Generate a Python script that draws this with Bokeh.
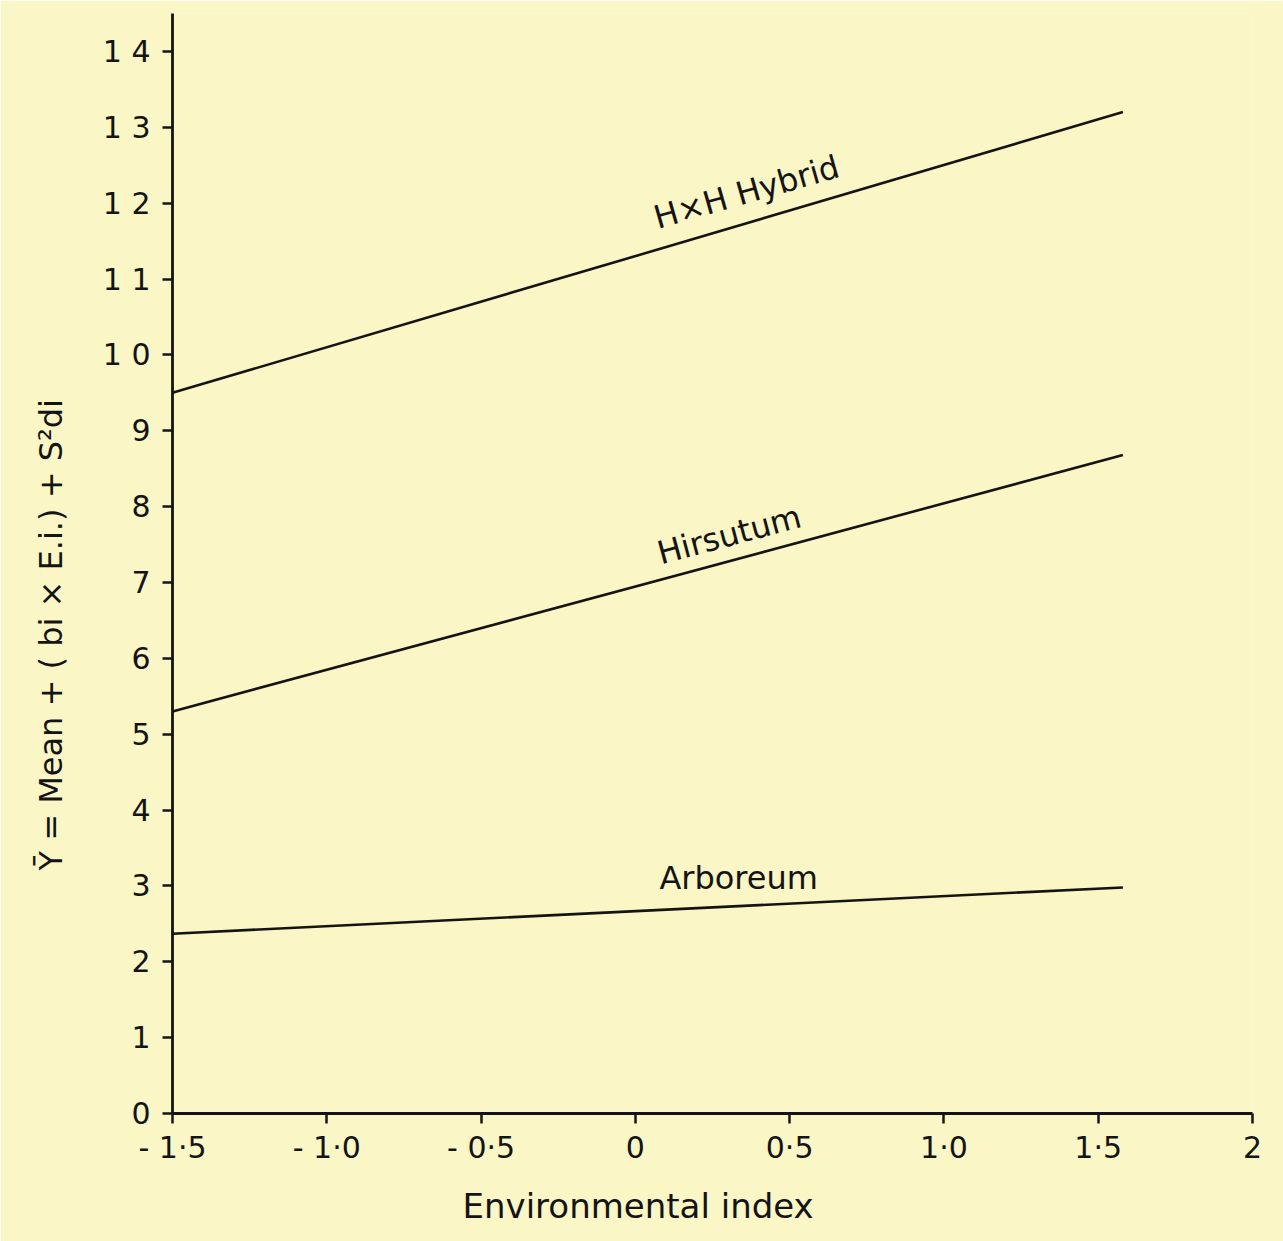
import math
from bokeh.plotting import figure
from bokeh.models import Range1d, FixedTicker, Label, Title
from bokeh.embed import file_html
from bokeh.resources import INLINE

# ---- data ----
env_index = [-1.5, 1.58]
hybrid = [9.5, 13.2]
hirsutum = [5.3, 8.68]
arboreum = [2.37, 2.98]

x_ticks = [-1.5, -1.0, -0.5, 0.0, 0.5, 1.0, 1.5, 2.0]
x_tick_labels = ["- 1·5", "- 1·0", "- 0·5", "0", "0·5", "1·0", "1·5", "2"]
y_ticks = list(range(15))
y_tick_labels = ["0", "1", "2", "3", "4", "5", "6", "7", "8", "9",
                 "1 0", "1 1", "1 2", "1 3", "1 4"]

series_names = ["H×H Hybrid", "Hirsutum", "Arboreum"]
x_title = "Environmental  index"
y_title = "Ȳ = Mean + ( bi × E.i.) + S²di"

FONT = "DejaVu Sans"
BG = "#FAF6C6"
INK = "#141414"
W, H = 1283, 1241
FRAME_LEFT, FRAME_BOTTOM = 172, 1113

p = figure(width=W, height=H, output_backend="svg", toolbar_location=None,
           x_range=Range1d(-1.5, 2.0), y_range=Range1d(0, 14.5),
           min_border_left=FRAME_LEFT, min_border_right=31, min_border_top=13,
           min_border_bottom=H - FRAME_BOTTOM)
p.background_fill_color = BG
p.border_fill_color = BG
p.outline_line_color = None
p.grid.visible = False

for ys in (hybrid, hirsutum, arboreum):
    p.line(env_index, ys, line_color=INK, line_width=2.6)

for ax in (p.xaxis[0], p.yaxis[0]):
    ax.axis_line_color = INK
    ax.axis_line_width = 2.8
    ax.major_tick_line_color = INK
    ax.major_tick_line_width = 2.5
    ax.major_tick_out = 10
    ax.major_tick_in = 0
    ax.minor_tick_line_color = None
    ax.major_label_text_font = FONT
    ax.major_label_text_color = INK
    ax.major_label_text_font_size = "30px"

p.xaxis.ticker = FixedTicker(ticks=x_ticks)
p.xaxis.major_label_overrides = {t: l for t, l in zip(x_ticks, x_tick_labels)}
p.yaxis.ticker = FixedTicker(ticks=y_ticks)
p.yaxis.major_label_overrides = {t: l for t, l in zip(y_ticks, y_tick_labels)}
p.xaxis.major_label_standoff = 6
p.yaxis.major_label_standoff = 12

# axis titles as side titles (offset from the frame's start)
p.add_layout(Title(text=x_title, align="left", offset=462 - FRAME_LEFT,
                   standoff=32, text_font=FONT, text_font_size="34px",
                   text_font_style="normal", text_color=INK), "below")
p.add_layout(Title(text=y_title, align="left", offset=FRAME_BOTTOM - 870,
                   standoff=59, text_font=FONT, text_font_size="32px",
                   text_font_style="normal", text_color=INK), "left")

def along(xs, ys, t):
    return ys[0] + (ys[1] - ys[0]) * (t - xs[0]) / (xs[1] - xs[0])

label_specs = [
    (series_names[0], hybrid, 0.08, 0.16, 16.0),
    (series_names[1], hirsutum, 0.09, 0.09, 15.0),
    (series_names[2], arboreum, 0.078, 0.17, 0.0),
]
for name, ys, xv, off, ang in label_specs:
    p.add_layout(Label(x=xv, y=along(env_index, ys, xv) + off, text=name,
                       angle=math.radians(ang), text_font=FONT,
                       text_font_size="32px", text_color=INK,
                       text_baseline="bottom", text_align="left"))

open("out.html", "w").write(file_html(p, INLINE))
